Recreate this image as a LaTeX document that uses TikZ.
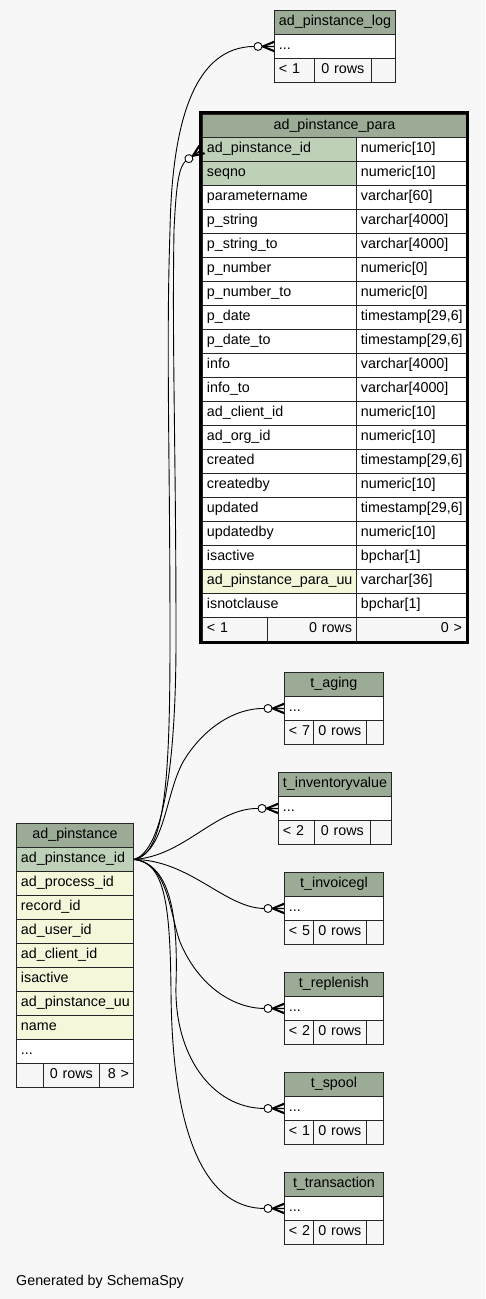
\documentclass[tikz,border=0pt]{standalone}
\usepackage{fontspec}
\setmainfont{Liberation Sans}
\usetikzlibrary{calc}
\definecolor{hdr}{HTML}{9BAB96}
\definecolor{pkc}{HTML}{BED1B8}
\definecolor{idxc}{HTML}{F4F7DA}
\definecolor{bgc}{HTML}{F7F7F7}
\newcommand\tc[7]{% name,x,y,w,h,style,text
  \pgfmathsetmacro\tcw{#4-9}%
  \node[cellst,#6,minimum width=#4pt,minimum height=#5pt,text width=\tcw pt] (#1) at (#2,#3) {#7};}
\newcommand\stab[8]{% id,x,ytop,w,title,w1,w2,footer-left
  \pgfmathsetmacro\sya{#3+24}\pgfmathsetmacro\syb{#3+48}%
  \pgfmathsetmacro\sxa{#2+#6}\pgfmathsetmacro\sxb{#2+#6+#7}\pgfmathsetmacro\swc{#4-#6-#7}%
  \tc{#1h}{#2}{#3}{#4}{24}{hd}{#5}
  \tc{#1d}{#2}{\sya}{#4}{24}{pl}{...}
  \tc{#1fa}{#2}{\syb}{#6}{24}{ft}{#8}
  \tc{#1fb}{\sxa}{\syb}{#7}{24}{ftc}{0~rows}
  \tc{#1fc}{\sxb}{\syb}{\swc}{24}{ft}{}
}
\newcommand\crowat[2]{% anchor, angle
  \begin{scope}[shift={(#1)},rotate=#2]
    \fill[black] (-12,0) -- (0,-5) -- (0,-3.4) -- (-9,0) -- (0,3.4) -- (0,5) -- cycle;
    \draw[conn,line width=1.4pt] (0,5) -- (-12,0) -- (0,-5) (-12,0) -- (0,0);
    \draw[conn,fill=white] (-16,0) circle (4pt);
  \end{scope}}
\begin{document}
\begin{tikzpicture}[x=1pt,y=-1pt,
  cellst/.style={draw=black!85, line width=0.9pt, anchor=north west, inner xsep=4.5pt, inner ysep=0pt,
    font=\fontsize{14.3}{16}\selectfont, text height=10pt, text depth=3pt, fill=white, align=left},
  pl/.style={},
  hd/.style={fill=hdr, align=center},
  pk/.style={fill=pkc},
  ix/.style={fill=idxc},
  ft/.style={fill=bgc},
  ftc/.style={fill=bgc, align=center},
  ftr/.style={fill=bgc, align=right},
  conn/.style={draw=black, line width=0.9pt}]
\fill[bgc] (0,0) rectangle (485,1299);
\useasboundingbox (0,0) rectangle (485,1299);

% ad_pinstance_log
\stab{log}{274}{10}{121}{ad\_pinstance\_log}{40}{57}{<~1}

% ad_pinstance_para
\tc{parah}{202}{114}{264}{23}{hd}{ad\_pinstance\_para}
\foreach \n/\t/\s [count=\k from 0] in {
  ad\_pinstance\_id/numeric[10]/pk,
  seqno/numeric[10]/pk,
  parametername/varchar[60]/pl,
  p\_string/varchar[4000]/pl,
  p\_string\_to/varchar[4000]/pl,
  p\_number/numeric[0]/pl,
  p\_number\_to/numeric[0]/pl,
  p\_date/timestamp[29{,}6]/pl,
  p\_date\_to/timestamp[29{,}6]/pl,
  info/varchar[4000]/pl,
  info\_to/varchar[4000]/pl,
  ad\_client\_id/numeric[10]/pl,
  ad\_org\_id/numeric[10]/pl,
  created/timestamp[29{,}6]/pl,
  createdby/numeric[10]/pl,
  updated/timestamp[29{,}6]/pl,
  updatedby/numeric[10]/pl,
  isactive/bpchar[1]/pl,
  ad\_pinstance\_para\_uu/varchar[36]/ix,
  isnotclause/bpchar[1]/pl}{
  \pgfmathsetmacro\ry{137+24*\k}
  \tc{pl\k}{202}{\ry}{154}{24}{\s}{\n}
  \tc{pr\k}{356}{\ry}{110}{24}{pl}{\t}
}
\tc{parafa}{202}{617}{65}{24}{ft}{<~1}
\tc{parafb}{267}{617}{89}{24}{ftr}{0~rows}
\tc{parafc}{356}{617}{110}{24}{ftr}{0~>}
\draw[line width=3pt] (200.5,112.5) rectangle (467.5,642.5);

% small tables
\stab{ag}{284}{672}{99}{t\_aging}{29}{53}{<~7}
\stab{inv}{278}{772}{113}{t\_inventoryvalue}{36}{56}{<~2}
\stab{igl}{284}{872}{99}{t\_invoicegl}{29}{53}{<~5}
\stab{rep}{284}{972}{99}{t\_replenish}{29}{53}{<~2}
\stab{sp}{284}{1072}{99}{t\_spool}{29}{53}{<~1}
\stab{tr}{284}{1172}{99}{t\_transaction}{29}{53}{<~2}

% ad_pinstance
\tc{aph}{16}{823}{117}{24}{hd}{ad\_pinstance}
\tc{pid}{16}{847}{117}{24}{pk}{ad\_pinstance\_id}
\tc{apa}{16}{871}{117}{24}{ix}{ad\_process\_id}
\tc{apb}{16}{895}{117}{24}{ix}{record\_id}
\tc{apc}{16}{919}{117}{24}{ix}{ad\_user\_id}
\tc{apd}{16}{943}{117}{24}{ix}{ad\_client\_id}
\tc{ape}{16}{967}{117}{24}{ix}{isactive}
\tc{apf}{16}{991}{117}{24}{ix}{ad\_pinstance\_uu}
\tc{apg}{16}{1015}{117}{24}{ix}{name}
\tc{apdots}{16}{1039}{117}{24}{pl}{...}
\tc{apfa}{16}{1063}{27}{24}{ft}{}
\tc{apfb}{43}{1063}{56}{24}{ftc}{0~rows}
\tc{apfc}{99}{1063}{34}{24}{ftr}{8~>}

% connector end points
\coordinate (login) at ([xshift=-20pt]logd.west);
\coordinate (parain) at ($(pl0.west)+(215:20pt)$);
\coordinate (agin) at ([xshift=-20pt]agd.west);
\coordinate (invin) at ([xshift=-20pt]invd.west);
\coordinate (iglin) at ([xshift=-20pt]igld.west);
\coordinate (repin) at ([xshift=-20pt]repd.west);
\coordinate (spin) at ([xshift=-20pt]spd.west);
\coordinate (trin) at ([xshift=-20pt]trd.west);

% connectors
\draw[conn] (pid.east) .. controls (165,855) and (170,780) .. (170,640)
  .. controls (170,450) and (166,350) .. (170,230)
  .. controls (172,120) and (195,47) .. (login);
\draw[conn] (pid.east) .. controls (160,852) and (176,780) .. (176,640)
  .. controls (176,450) and (172,350) .. (174,230)
  .. controls (176,190) and (178,168) .. (parain);
\draw[conn] (pid.east) .. controls (165,852) and (165,795) .. (183,762)
  .. controls (203,728) and (235,708) .. (agin);
\draw[conn] (pid.east) .. controls (185,856) and (215,808) .. (invin);
\draw[conn] (pid.east) .. controls (190,860) and (225,908) .. (iglin);
\draw[conn] (pid.east) .. controls (168,862) and (170,915) .. (180,942)
  .. controls (198,985) and (232,1008) .. (repin);
\draw[conn] (pid.east) .. controls (172,864) and (178,920) .. (176,985)
  .. controls (174,1055) and (212,1108) .. (spin);
\draw[conn] (pid.east) .. controls (165,862) and (170,905) .. (171,990)
  .. controls (172,1150) and (212,1208) .. (trin);

\crowat{logd.west}{0}
\crowat{pl0.west}{35}
\crowat{agd.west}{0}
\crowat{invd.west}{0}
\crowat{igld.west}{0}
\crowat{repd.west}{0}
\crowat{spd.west}{0}
\crowat{trd.west}{0}

\node[anchor=base west, font=\fontsize{14.3}{16}\selectfont, inner sep=0pt] (gen) at (16,1285) {Generated by SchemaSpy};
\end{tikzpicture}
\end{document}
